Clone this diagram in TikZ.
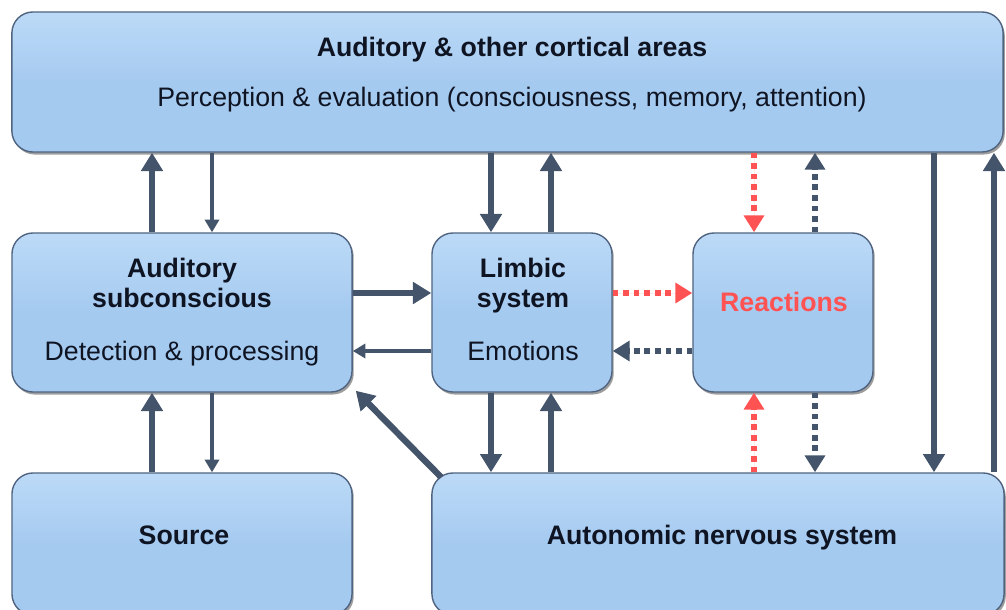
\documentclass[tikz,border=0pt]{standalone}
\usepackage{fontspec}
\setmainfont{Liberation Sans}
\usepackage{xcolor}
\usepackage{tikz}
\usetikzlibrary{arrows.meta,positioning,calc,shadows}
\definecolor{boxfill}{RGB}{165,202,240}
\definecolor{boxtop}{RGB}{188,218,247}
\definecolor{boxline}{RGB}{80,100,128}
\definecolor{arrowc}{RGB}{68,84,106}
\definecolor{reactred}{RGB}{255,82,82}
\definecolor{txt}{RGB}{15,20,35}

\begin{document}
\begin{tikzpicture}[
    x=0.025cm, y=-0.025cm,
    font=\fontsize{19}{23}\selectfont,
    box/.style={draw=boxline, line width=1pt, rounded corners=15pt, top color=boxtop, bottom color=boxfill, middle color=boxfill,
        drop shadow={shadow xshift=1.2pt, shadow yshift=-1.8pt, opacity=0.55, fill=black!70}},
    hd/.style={font=\fontsize{19}{23}\selectfont\bfseries, text=txt, anchor=base},
    sub/.style={text=txt, anchor=base},
    thk/.style={draw=arrowc, line width=4.5pt, -{Triangle[width=15pt,length=13pt]}},
    thn/.style={draw=arrowc, line width=2.4pt, -{Triangle[width=10pt,length=9pt]}},
    dotd/.style={draw=arrowc, line width=4.5pt, dash pattern=on 4pt off 3.5pt, -{Triangle[width=14pt,length=12pt]}},
    dotr/.style={dotd, draw=reactred, fill=reactred},
]
    \useasboundingbox (0,0) rectangle (1006,610);

    % boxes
    \node[box, minimum width=24.775cm, minimum height=3.5cm] (cortex) at (507.5,82) {};
    \node[box, minimum width=8.5cm, minimum height=3.975cm] (subc) at (182,312.5) {};
    \node[box, minimum width=4.5cm, minimum height=3.975cm] (limbic) at (522,312.5) {};
    \node[box, minimum width=4.5cm, minimum height=3.975cm] (react) at (783,312.5) {};
    \node[box, minimum width=8.5cm, minimum height=3.55cm] (source) at (182,544) {};
    \node[box, minimum width=14.3cm, minimum height=3.55cm] (auto) at (718,544) {};

    % texts
    \node[hd] (cortexhd) at (512,56.5) {Auditory \& other cortical areas};
    \node[sub] (cortexsub) at (512,106.5) {Perception \& evaluation (consciousness, memory, attention)};
    \node[hd] (subchd) at (182,277) {Auditory};
    \node[hd] (subchd2) at (182,307) {subconscious};
    \node[sub] (subcsub) at (182,360) {Detection \& processing};
    \node[hd] (limbichd) at (523,277) {Limbic};
    \node[hd] (limbichd2) at (523,307) {system};
    \node[sub] (limbicsub) at (523,360) {Emotions};
    \node[hd, text=reactred] (reacthd) at (784,311) {Reactions};
    \node[hd] (sourcehd) at (184,544) {Source};
    \node[hd] (autohd) at (722,544) {Autonomic nervous system};

    % x and y positions of the connectors
    \coordinate (xa) at (152,0);
    \coordinate (xb) at (212,0);
    \coordinate (xc) at (491,0);
    \coordinate (xd) at (551,0);
    \coordinate (xe) at (754,0);
    \coordinate (xf) at (815,0);
    \coordinate (xg) at (934,0);
    \coordinate (xh) at (994,0);
    \coordinate (ya) at (0,293);
    \coordinate (yb) at (0,351);

    % connectors
    \draw[thk] (subc.north -| xa) -- (cortex.south -| xa);
    \draw[thn] (cortex.south -| xb) -- (subc.north -| xb);
    \draw[thk] (source.north -| xa) -- (subc.south -| xa);
    \draw[thn] (subc.south -| xb) -- (source.north -| xb);

    \draw[thk] (cortex.south -| xc) -- (limbic.north -| xc);
    \draw[thk] (limbic.north -| xd) -- (cortex.south -| xd);
    \draw[thk] (limbic.south -| xc) -- (auto.north -| xc);
    \draw[thk] (auto.north -| xd) -- (limbic.south -| xd);

    \draw[thk] (subc.east |- ya) -- (limbic.west |- ya);
    \draw[thn] (limbic.west |- yb) -- (subc.east |- yb);

    \draw[dotr] (limbic.east |- ya) -- (react.west |- ya);
    \draw[dotd] (react.west |- yb) -- (limbic.east |- yb);

    \draw[dotr] (cortex.south -| xe) -- (react.north -| xe);
    \draw[dotd] (react.north -| xf) -- (cortex.south -| xf);
    \draw[dotr] (auto.north -| xe) -- (react.south -| xe);
    \draw[dotd] (react.south -| xf) -- (auto.north -| xf);

    \draw[thk] (cortex.south -| xg) -- (auto.north -| xg);
    \draw[thk] (auto.north -| xh) -- (cortex.south -| xh);

    \draw[thk] ([shift={(10,5)}]auto.north west) -- ([shift={(3,-2)}]subc.south east);
\end{tikzpicture}
\end{document}
